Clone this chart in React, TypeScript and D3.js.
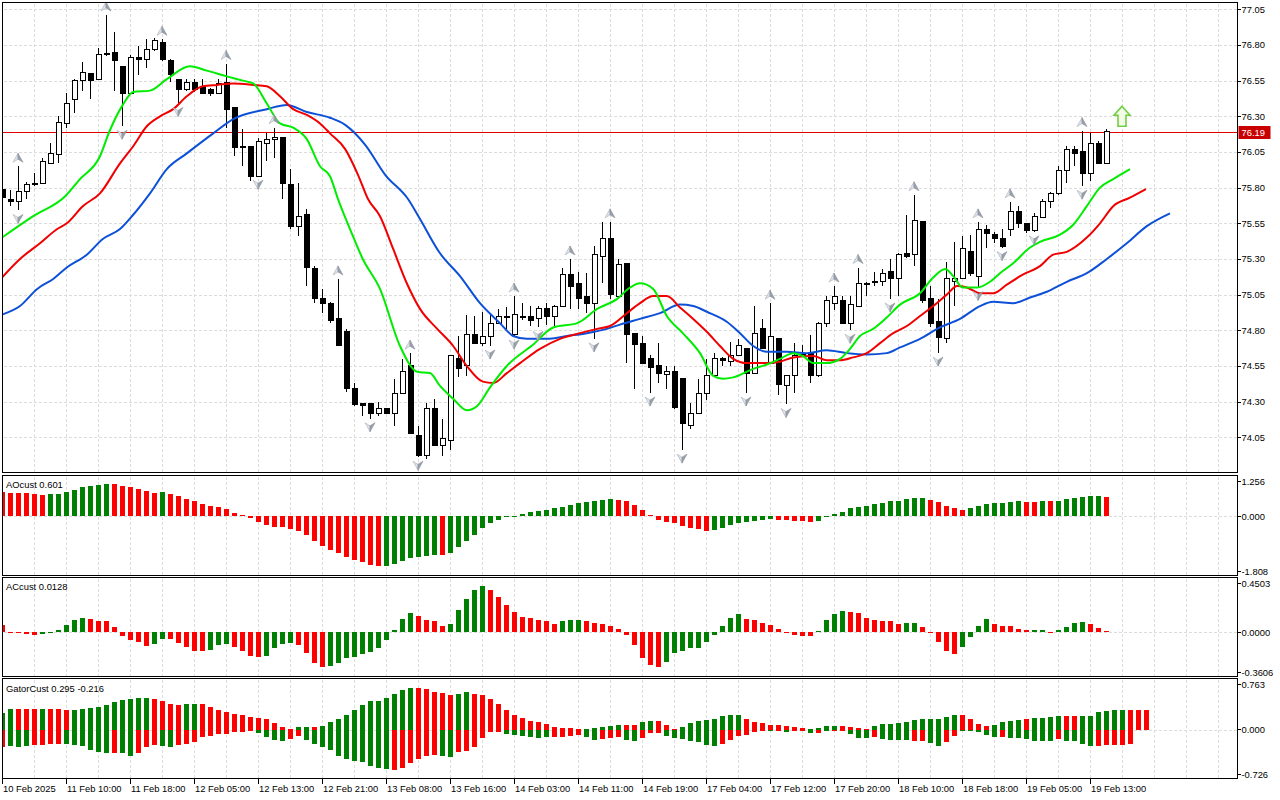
import * as d3 from 'd3';

// ---------- candles (hourly bars) ----------
const opens = [75.79,75.72,75.70,75.77,75.82,75.83,75.97,76.03,76.25,76.42,
76.55,76.60,76.56,76.73,76.75,76.65,76.46,76.71,76.70,76.77,
76.82,76.69,76.56,76.49,76.54,76.51,76.49,76.46,76.54,76.36,
76.09,76.09,75.88,76.11,76.14,76.15,75.82,75.53,75.61,75.23,
75.02,74.99,74.88,74.79,74.39,74.29,74.29,74.22,74.25,74.22,
74.36,74.55,74.06,73.92,74.25,73.99,74.03,74.60,74.55,74.77,
74.71,74.76,74.85,74.90,74.77,74.90,74.90,74.88,74.95,74.90,
74.97,75.19,75.13,75.04,74.99,75.32,75.44,75.04,75.27,74.78,
74.71,74.60,74.55,74.49,74.51,74.46,74.13,74.22,74.36,74.48,
74.60,74.58,74.62,74.67,74.50,74.81,74.57,74.74,74.41,74.48,
74.62,74.64,74.48,74.85,74.99,75.01,74.85,74.97,75.13,75.14,
75.14,75.21,75.16,75.34,75.33,75.56,75.02,74.86,74.74,75.14,
75.16,75.35,75.18,75.51,75.47,75.44,75.51,75.63,75.55,75.50,
75.59,75.70,75.76,75.92,76.07,76.05,75.90,76.11,75.97];
const highs = [75.81,75.78,75.95,75.84,75.90,76.01,76.11,76.30,76.46,76.56,
76.68,76.60,76.78,77.01,76.89,76.65,76.73,76.79,76.84,76.85,
76.84,76.70,76.56,76.56,76.56,76.56,76.50,76.56,76.67,76.36,
76.21,76.09,76.15,76.18,76.22,76.15,75.93,75.83,75.65,75.25,
75.09,75.00,75.16,74.81,74.43,74.29,74.29,74.30,74.25,74.46,
74.60,74.64,74.13,74.29,74.32,74.18,74.63,74.76,74.91,74.90,
74.93,74.92,74.95,74.96,75.04,74.99,74.97,74.97,74.99,74.98,
75.24,75.30,75.21,75.20,75.39,75.56,75.56,75.30,75.27,74.78,
74.76,74.63,74.71,74.55,74.55,74.46,74.29,74.46,74.60,74.64,
74.61,74.72,74.74,74.67,74.97,74.88,74.99,74.74,74.48,74.71,
74.70,74.77,74.86,75.04,75.11,75.04,75.04,75.24,75.14,75.21,
75.23,75.30,75.34,75.61,75.75,75.56,75.11,75.02,75.28,75.42,
75.46,75.47,75.56,75.54,75.49,75.51,75.70,75.67,75.55,75.62,
75.72,75.77,75.95,76.09,76.09,76.20,76.18,76.13,76.21];
const lows = [75.72,75.67,75.64,75.72,75.81,75.83,75.97,75.97,76.22,76.32,
76.48,76.42,76.56,76.72,76.48,76.23,76.46,76.59,76.64,76.76,
76.69,76.54,76.39,76.48,76.47,76.46,76.44,76.46,76.22,76.02,
75.95,75.85,75.88,75.99,76.01,75.72,75.51,75.46,75.11,74.99,
74.92,74.85,74.69,74.37,74.27,74.20,74.18,74.20,74.22,74.13,
74.36,74.08,73.91,73.90,73.99,73.92,73.96,74.47,74.48,74.71,
74.69,74.69,74.85,74.81,74.76,74.87,74.83,74.82,74.84,74.83,
74.97,74.95,74.95,74.92,74.74,75.13,75.02,75.02,74.57,74.39,
74.57,74.36,74.43,74.39,74.25,73.96,74.11,74.22,74.31,74.47,
74.55,74.55,74.62,74.36,74.50,74.67,74.57,74.35,74.28,74.36,
74.61,74.43,74.47,74.82,74.94,74.85,74.80,74.97,75.04,75.11,
75.11,75.02,75.04,75.31,75.25,74.99,74.82,74.64,74.71,74.97,
75.16,75.18,75.10,75.38,75.41,75.38,75.46,75.52,75.48,75.49,
75.59,75.66,75.75,75.83,75.95,75.81,75.85,75.97,75.97];
const closes = [75.73,75.70,75.77,75.82,75.83,75.98,76.04,76.26,76.39,76.55,
76.61,76.55,76.73,76.74,76.69,76.46,76.71,76.70,76.77,76.83,
76.70,76.59,76.49,76.54,76.49,76.46,76.46,76.53,76.35,76.08,
76.08,75.88,76.12,76.14,76.15,75.83,75.53,75.60,75.24,75.02,
74.99,74.87,74.69,74.39,74.28,74.27,74.22,74.25,74.22,74.36,
74.51,74.08,73.92,74.25,73.99,74.04,74.62,74.53,74.77,74.71,
74.76,74.85,74.90,74.90,74.91,74.90,74.87,74.95,74.90,74.97,
75.19,75.11,75.02,74.99,75.33,75.44,75.05,75.26,74.77,74.70,
74.57,74.54,74.50,74.51,74.26,74.15,74.22,74.36,74.48,74.60,
74.59,74.62,74.69,74.50,74.78,74.67,74.76,74.42,74.48,74.62,
74.63,74.48,74.85,75.01,75.04,74.85,74.98,75.13,75.12,75.14,
75.20,75.16,75.33,75.32,75.57,75.01,74.85,74.75,75.16,75.16,
75.37,75.20,75.51,75.48,75.44,75.39,75.63,75.55,75.50,75.60,
75.70,75.76,75.92,76.07,76.04,75.90,76.11,75.97,76.19];

const fractalUp = [2,13,20,28,34,42,51,64,71,76,96,104,107,114,122,126,135];
const fractalDown = [2,15,22,32,46,52,61,64,67,74,81,85,93,98,106,111,117,122,125,129,135];

const lastPrice = 76.19;
const signalBar = 140;
const signalPrice = 76.30;

// ---------- alligator lines: [bar index, price] ----------
const lips: [number, number][] = [[0,75.45],[3.9,75.60],[7.9,75.74],[9.75,75.86],[12.25,76.02],[13.4,76.19],[15.1,76.38],[16.4,76.47],[18.5,76.48],[20.6,76.56],[23.5,76.65],[25.6,76.62],[28.1,76.58],[30.1,76.55],[31.4,76.53],[33.1,76.39],[34.75,76.25],[36.4,76.22],[38.1,76.14],[39.75,75.95],[41,75.88],[42,75.72],[43.5,75.51],[45.1,75.30],[47.25,75.09],[49.75,74.69],[51.9,74.51],[53.5,74.50],[54.75,74.41],[56.4,74.32],[58.1,74.24],[59.4,74.27],[61,74.40],[63.1,74.55],[66.4,74.70],[68.9,74.82],[71.9,74.85],[74.4,74.95],[76.9,75.02],[78.5,75.10],[79.75,75.13],[81.4,75.09],[83.1,74.90],[85.1,74.78],[87.25,74.64],[88.9,74.48],[90.1,74.46],[91.4,74.47],[93.9,74.53],[95.6,74.56],[97.25,74.60],[98.9,74.64],[100.1,74.62],[101.4,74.57],[103.1,74.57],[104.75,74.60],[106,74.67],[107.25,74.76],[108.9,74.81],[110.6,74.89],[112.25,74.98],[114.75,75.06],[116.4,75.17],[117.9,75.23],[118.9,75.18],[120.1,75.10],[121.9,75.10],[123.5,75.14],[124.75,75.20],[126.4,75.27],[128.5,75.38],[129.75,75.42],[132.25,75.47],[133.9,75.54],[135.6,75.67],[137.25,75.80],[138.9,75.86],[141,75.93]];
const teeth: [number, number][] = [[0,75.17],[2.25,75.30],[4.75,75.41],[6.9,75.51],[8.1,75.55],[10.1,75.67],[12.25,75.76],[14.75,75.97],[16.4,76.09],[18.1,76.23],[19.75,76.30],[21.4,76.35],[23.1,76.44],[25.1,76.51],[26.9,76.52],[28.9,76.53],[31.4,76.52],[33.1,76.51],[34.75,76.44],[36.4,76.35],[38.1,76.31],[39.75,76.25],[41,76.18],[42.9,76.07],[44.5,75.89],[45.75,75.72],[47.25,75.60],[48.9,75.37],[50.6,75.13],[52.25,74.95],[54.4,74.81],[56.4,74.69],[58.1,74.55],[60.1,74.44],[61.4,74.43],[63.1,74.50],[64.75,74.57],[67.25,74.67],[69.75,74.74],[72.25,74.78],[74.4,74.81],[76,74.83],[78.1,74.92],[79.75,74.99],[81.4,75.04],[83.1,75.04],[84.75,74.96],[86.4,74.88],[88.1,74.79],[89.75,74.69],[91.4,74.60],[93.1,74.57],[95.6,74.57],[97.25,74.58],[98.9,74.61],[101.4,74.62],[103.1,74.59],[104.75,74.59],[106.4,74.61],[108.1,74.64],[109.75,74.71],[111.4,74.78],[113.1,74.83],[114.75,74.90],[116.4,74.97],[118.1,75.05],[119.4,75.11],[120.6,75.10],[122.25,75.06],[123.9,75.06],[125.6,75.12],[127.6,75.19],[129.75,75.25],[131.4,75.33],[133.1,75.35],[135.6,75.45],[137.25,75.55],[138.9,75.67],[141,75.73],[143,75.79]];
const jaw: [number, number][] = [[0,74.91],[2.25,74.97],[4.4,75.09],[6.4,75.16],[8.1,75.24],[10.6,75.33],[12.6,75.44],[14.75,75.51],[16.4,75.61],[18.5,75.76],[20.6,75.93],[23.1,76.04],[26.4,76.18],[28.9,76.28],[33.1,76.35],[35.6,76.38],[38.1,76.33],[41,76.29],[42.9,76.24],[45.4,76.10],[47.9,75.89],[50.75,75.72],[52.25,75.58],[54.75,75.34],[57.25,75.18],[59.75,74.99],[62.25,74.85],[63.9,74.76],[65.6,74.74],[68.1,74.74],[70.6,74.76],[73.1,74.78],[75.6,74.81],[77.25,74.84],[79.75,74.88],[82.25,74.92],[84.75,74.98],[86.4,74.97],[88.1,74.93],[90.6,74.86],[92.25,74.78],[93.9,74.69],[95.6,74.65],[98.1,74.65],[100.6,74.64],[103.1,74.66],[105.6,74.64],[108.1,74.63],[110.6,74.64],[112.25,74.68],[114.75,74.74],[117.25,74.82],[119.75,74.88],[122.25,74.97],[123.9,75.00],[126.4,74.99],[128.5,75.03],[130.6,75.07],[133.1,75.14],[135.6,75.20],[138.1,75.30],[140.6,75.41],[143.1,75.53],[146,75.62]];

// ---------- oscillators (g = rising / green, r = falling / red) ----------
const aoValues = [0.74,0.72,0.72,0.72,0.69,0.66,0.69,0.70,0.76,0.82,
0.90,0.93,0.96,1.00,0.99,0.93,0.90,0.85,0.79,0.72,
0.76,0.69,0.62,0.54,0.46,0.38,0.33,0.28,0.23,0.12,
0.04,-0.04,-0.16,-0.26,-0.31,-0.32,-0.37,-0.44,-0.58,-0.75,
-0.91,-1.03,-1.13,-1.25,-1.32,-1.40,-1.48,-1.53,-1.51,-1.45,
-1.37,-1.27,-1.24,-1.22,-1.17,-1.18,-1.13,-0.94,-0.75,-0.58,
-0.34,-0.19,-0.10,-0.02,0.01,0.07,0.14,0.17,0.20,0.25,
0.30,0.35,0.41,0.44,0.48,0.50,0.54,0.50,0.48,0.35,
0.19,0.04,-0.10,-0.16,-0.21,-0.29,-0.34,-0.39,-0.44,-0.41,
-0.34,-0.26,-0.21,-0.16,-0.13,-0.11,-0.08,-0.10,-0.11,-0.13,
-0.135,-0.16,-0.13,-0.01,0.07,0.14,0.25,0.30,0.33,0.38,
0.42,0.46,0.48,0.53,0.56,0.565,0.50,0.45,0.32,0.25,
0.20,0.25,0.31,0.37,0.40,0.41,0.44,0.46,0.45,0.44,
0.48,0.46,0.48,0.53,0.56,0.59,0.62,0.625,0.601];
const aoColors = 'rrrrrrgggg' + 'ggggrrrrrr' + 'grrrrrrrrr' + 'rrrrrrrrrr' + 'rrrrrrrrgg' +
  'gggggrgggg' + 'gggggggggg' + 'gggggggrrr' + 'rrrrrrrrrg' + 'gggggggrrr' +
  'rrgggggggg' + 'ggggggrrrr' + 'rgggggggrr' + 'grggggggr';

const acValues = [0.063,0.005,-0.005,-0.01,-0.02,-0.015,-0.003,0.02,0.06,0.10,
0.12,0.11,0.094,0.09,0.046,-0.03,-0.063,-0.079,-0.11,-0.096,
-0.05,-0.055,-0.085,-0.12,-0.15,-0.152,-0.14,-0.10,-0.096,-0.12,
-0.15,-0.19,-0.20,-0.19,-0.13,-0.096,-0.09,-0.104,-0.17,-0.25,
-0.28,-0.275,-0.25,-0.21,-0.20,-0.18,-0.16,-0.13,-0.063,0.02,
0.11,0.16,0.134,0.10,0.09,0.05,0.07,0.186,0.276,0.345,
0.38,0.35,0.29,0.227,0.164,0.13,0.118,0.10,0.09,0.07,
0.095,0.104,0.105,0.09,0.077,0.07,0.057,0.03,-0.02,-0.10,
-0.21,-0.27,-0.28,-0.24,-0.17,-0.15,-0.13,-0.128,-0.08,-0.02,
0.05,0.12,0.148,0.113,0.10,0.08,0.064,0.025,-0.005,-0.02,
-0.03,-0.032,0.008,0.10,0.154,0.173,0.167,0.162,0.118,0.10,
0.095,0.094,0.067,0.08,0.081,0.046,-0.005,-0.08,-0.15,-0.18,
-0.12,-0.035,0.055,0.11,0.067,0.05,0.049,0.025,0.019,0.02,
0.021,-0.003,0.019,0.046,0.08,0.082,0.072,0.04,0.0128];
const acColors = 'rrrrrggggg' + 'grrrrrrrrg' + 'grrrrrgggr' + 'rrrggggrrr' + 'rggggggggg' +
  'ggrrrrgggg' + 'grrrrrrrrr' + 'gggrrrrrrr' + 'rrrggggggg' + 'gggrrrrrrr' +
  'rrggggrrrr' + 'rrrggrrrrr' + 'ggggrrrrrg' + 'grggggrrr';

const gatorUpper = [0.248,0.308,0.308,0.313,0.313,0.313,0.313,0.313,0.298,0.298,
0.308,0.323,0.342,0.372,0.407,0.446,0.456,0.466,0.476,0.456,
0.422,0.387,0.367,0.387,0.387,0.387,0.337,0.298,0.258,0.233,
0.218,0.188,0.169,0.159,0.099,0.045,0.01,0.045,0.045,0.045,
0.06,0.109,0.159,0.218,0.298,0.367,0.422,0.432,0.476,0.531,
0.595,0.625,0.625,0.605,0.565,0.541,0.516,0.536,0.556,0.536,
0.516,0.456,0.382,0.298,0.218,0.169,0.134,0.109,0.08,0.045,
0.025,0.02,0.015,0.01,0.02,0.035,0.06,0.065,0.07,0.07,
0.109,0.134,0.134,0.07,0.01,0.045,0.094,0.124,0.144,0.159,
0.199,0.223,0.225,0.159,0.119,0.094,0.075,0.07,0.05,0.035,
0.025,0.005,0.02,0.05,0.06,0.06,0.035,0.02,0.01,0.06,
0.085,0.087,0.094,0.119,0.144,0.159,0.16,0.16,0.184,0.218,
0.218,0.159,0.085,0.06,0.07,0.119,0.134,0.144,0.155,0.169,
0.174,0.184,0.199,0.199,0.199,0.199,0.208,0.258,0.283,0.298,
0.298,0.295,0.295,0.295];
const gatorUpperColors = 'ggrrrgrrrg' + 'gggggggggr' + 'rrrggrrrrr' + 'rrrrrrrggr' + 'gggggggggg' +
  'ggrrrrrggr' + 'rrrrrrrrrr' + 'rrrgggggrr' + 'ggrrrggggg' + 'gggrrrrrrr' +
  'rggggrrrrg' + 'gggggggggg' + 'rrrrggggrg' + 'gggrrggggg' + 'grrr';

const gatorLower = [-0.263,-0.248,-0.253,-0.248,-0.223,-0.223,-0.213,-0.213,-0.213,-0.223,
-0.248,-0.297,-0.327,-0.352,-0.352,-0.352,-0.387,-0.352,-0.263,-0.228,
-0.238,-0.253,-0.228,-0.218,-0.179,-0.114,-0.089,-0.069,-0.064,-0.040,
-0.030,-0.015,-0.05,-0.114,-0.149,-0.164,-0.139,-0.089,-0.154,-0.213,
-0.253,-0.307,-0.387,-0.436,-0.461,-0.486,-0.546,-0.565,-0.59,-0.595,
-0.575,-0.50,-0.436,-0.387,-0.377,-0.387,-0.402,-0.337,-0.312,-0.253,
-0.129,-0.03,-0.03,-0.064,-0.074,-0.099,-0.114,-0.124,-0.114,-0.109,
-0.104,-0.089,-0.079,-0.114,-0.154,-0.139,-0.129,-0.114,-0.154,-0.169,
-0.129,-0.05,-0.05,-0.099,-0.129,-0.139,-0.164,-0.189,-0.228,-0.248,
-0.218,-0.149,-0.099,-0.074,-0.040,-0.015,-0.025,-0.005,-0.04,-0.015,
-0.005,-0.05,-0.05,-0.003,-0.003,-0.01,-0.064,-0.124,-0.124,-0.114,
-0.139,-0.149,-0.149,-0.149,-0.164,-0.164,-0.203,-0.248,-0.189,-0.089,
-0.015,-0.003,-0.04,-0.079,-0.114,-0.104,-0.129,-0.129,-0.139,-0.164,
-0.174,-0.164,-0.139,-0.164,-0.174,-0.213,-0.248,-0.238,-0.233,-0.233,
-0.228,-0.216];
const gatorLowerColors = 'rgggrrrrgg' + 'ggggrggrrr' + 'ggrrrrrrrr' + 'rrggggrrgg' + 'gggggggggr' +
  'rrrrrggrrr' + 'rrrggggggr' + 'rrrggrrrgg' + 'rrrggggggg' + 'rrrrrrgrgr' +
  'rgrgrrgggr' + 'ggggrrggrr' + 'gggggrgggg' + 'ggrggggrrr' + 'rr';

// ---------- axes ----------
const priceTicks = [77.05, 76.80, 76.55, 76.30, 76.05, 75.80, 75.55, 75.30, 75.05, 74.80, 74.55, 74.30, 74.05];
const timeLabels = ['10 Feb 2025', '11 Feb 10:00', '11 Feb 18:00', '12 Feb 05:00', '12 Feb 13:00',
  '12 Feb 21:00', '13 Feb 08:00', '13 Feb 16:00', '14 Feb 03:00', '14 Feb 11:00', '14 Feb 19:00',
  '17 Feb 04:00', '17 Feb 12:00', '17 Feb 20:00', '18 Feb 10:00', '18 Feb 18:00', '19 Feb 05:00',
  '19 Feb 13:00'];
const aoTicks = [['1.256', 1.256], ['0.000', 0], ['-1.808', -1.808]] as [string, number][];
const acTicks = [['0.4503', 0.4503], ['0.0000', 0], ['-0.3606', -0.3606]] as [string, number][];
const gatorTicks = [['0.763', 0.763], ['0.000', 0], ['-0.726', -0.726]] as [string, number][];

// ---------- layout ----------
const L = 2.5;
const R = 1237.5;
const panes = {
  main: { top: 2.5, bottom: 472.5 },
  ao: { top: 475.5, bottom: 575.5 },
  ac: { top: 577.5, bottom: 676.5 },
  gator: { top: 678.5, bottom: 778.5 },
};

const x = d3.scaleLinear().domain([0, 1]).range([2, 10]);
const yPrice = d3.scaleLinear().domain([74.05, 77.05]).range([437.3, 9.3]);
const yAO = d3.scaleLinear().domain([-1.808, 1.256]).range([panes.ao.bottom, panes.ao.top]);
const yAC = d3.scaleLinear().domain([-0.3606, 0.4503]).range([panes.ac.bottom, panes.ac.top]);
const yGator = d3.scaleLinear().domain([-0.726, 0.763]).range([panes.gator.bottom, panes.gator.top]);

const GREEN = '#008000';
const RED = '#ff0000';
const GRID = '#dcdcdc';
const FONT = '"Liberation Sans", Arial, sans-serif';
const FS = 9.4;

const barIndex = d3.range(0, Math.floor(x.invert(R)) + 1);
const gridX = barIndex.filter((i) => i % 4 === 0 && i > 0);

function Histogram({ values, colors, y }: { values: number[]; colors: string; y: d3.ScaleLinear<number, number> }) {
  const y0 = y(0);
  return (
    <g shapeRendering="crispEdges">
      {values.map((v, i) => {
        const yv = y(v);
        return (
          <rect key={i} x={x(i) - 2} y={Math.min(y0, yv)} width={5}
            height={Math.max(1, Math.abs(yv - y0))} fill={colors[i] === 'g' ? GREEN : RED} />
        );
      })}
    </g>
  );
}

function PaneFrame({ top, bottom, id }: { top: number; bottom: number; id: string }) {
  return (
    <g>
      <clipPath id={id}>
        <rect x={L + 0.5} y={top + 0.5} width={R - L - 1} height={bottom - top - 1} />
      </clipPath>
      <g stroke={GRID} strokeDasharray="3,2" shapeRendering="crispEdges">
        {gridX.map((i) => (
          <line key={i} x1={x(i) + 0.5} x2={x(i) + 0.5} y1={top + 1} y2={bottom - 1} />
        ))}
      </g>
    </g>
  );
}

function RightTicks({ ticks, y, top, bottom }: { ticks: [string, number][]; y: d3.ScaleLinear<number, number>; top: number; bottom: number }) {
  return (
    <g fontFamily={FONT} fontSize={FS} fill="#000">
      {ticks.map(([label, v]) => {
        const base = Math.min(Math.max(y(v) + 3.5, top + 9), bottom - 1);
        return (
          <g key={label}>
            <line x1={R} x2={R + 3} y1={base - 3.5} y2={base - 3.5} stroke="#000" shapeRendering="crispEdges" />
            <text x={R + 4} y={base}>{label}</text>
          </g>
        );
      })}
    </g>
  );
}

function Fractal({ i, up }: { i: number; up: boolean }) {
  const cx = x(i);
  const dir = up ? 1 : -1;
  const tip = up ? yPrice(highs[i]) - 13 : yPrice(lows[i]) + 13;
  const base = tip + dir * 9;
  const notch = tip + dir * 6;
  return (
    <g>
      <path d={`M${cx},${tip} L${cx - 5},${base} L${cx},${notch} Z`} fill="#dfe3ea" stroke="#a7aebb" strokeWidth={0.6} />
      <path d={`M${cx},${tip} L${cx + 5},${base} L${cx},${notch} Z`} fill="#9aa0aa" stroke="#8a909a" strokeWidth={0.6} />
    </g>
  );
}

export default function App() {
  const line = d3.line<[number, number]>()
    .x((d) => x(d[0]))
    .y((d) => yPrice(d[1]))
    .curve(d3.curveMonotoneX);

  const sx = x(signalBar);
  const sy = yPrice(signalPrice);
  const priceY = Math.round(yPrice(lastPrice)) + 0.5;

  return (
    <svg width={1280} height={800} style={{ position: 'absolute', left: 0, top: 0, background: '#fff' }}>
      <rect width={1280} height={800} fill="#fff" />

      {/* main pane */}
      <PaneFrame top={panes.main.top} bottom={panes.main.bottom} id="clipMain" />
      <g stroke={GRID} strokeDasharray="3,2" shapeRendering="crispEdges">
        {priceTicks.map((p) => (
          <line key={p} x1={L + 1} x2={R - 1} y1={Math.round(yPrice(p)) + 0.5} y2={Math.round(yPrice(p)) + 0.5} />
        ))}
      </g>
      <g clipPath="url(#clipMain)">
        <line x1={L} x2={R} y1={priceY} y2={priceY} stroke="#e00000" strokeWidth={1} shapeRendering="crispEdges" />
        <g shapeRendering="crispEdges">
          {opens.map((o, i) => {
            const c = closes[i];
            const cx = x(i);
            const bull = c >= o;
            const yTop = yPrice(Math.max(o, c));
            const yBot = yPrice(Math.min(o, c));
            return (
              <g key={i}>
                <line x1={cx + 0.5} x2={cx + 0.5} y1={yPrice(highs[i])} y2={yPrice(lows[i])} stroke="#000" />
                <rect x={cx - 2} y={yTop} width={5} height={Math.max(1, yBot - yTop)}
                  fill={bull ? '#fff' : '#000'} stroke="#000" strokeWidth={1} />
              </g>
            );
          })}
        </g>
        <path d={line(jaw) ?? ''} fill="none" stroke="#0d50d8" strokeWidth={2} />
        <path d={line(teeth) ?? ''} fill="none" stroke="#f00000" strokeWidth={2} />
        <path d={line(lips) ?? ''} fill="none" stroke="#00ec00" strokeWidth={2} />
        {fractalUp.map((i) => <Fractal key={'u' + i} i={i} up />)}
        {fractalDown.map((i) => <Fractal key={'d' + i} i={i} up={false} />)}
        <path d={`M${sx},${sy - 10} L${sx + 8},${sy - 1} L${sx + 4},${sy - 1} L${sx + 4},${sy + 10} L${sx - 4},${sy + 10} L${sx - 4},${sy - 1} L${sx - 8},${sy - 1} Z`}
          fill="#f3fce8" stroke="#72cf42" strokeWidth={1.6} strokeLinejoin="miter" />
      </g>
      <rect x={L} y={panes.main.top} width={R - L} height={panes.main.bottom - panes.main.top} fill="none" stroke="#000" shapeRendering="crispEdges" />
      <g fontFamily={FONT} fontSize={FS}>
        {priceTicks.map((p) => {
          const yy = yPrice(p);
          return (
            <g key={p}>
              <line x1={R} x2={R + 3} y1={Math.round(yy) + 0.5} y2={Math.round(yy) + 0.5} stroke="#000" shapeRendering="crispEdges" />
              <text x={R + 4} y={yy + 3.5}>{p.toFixed(2)}</text>
            </g>
          );
        })}
        <rect x={R + 1} y={priceY - 6.5} width={32} height={13} fill="#c80000" />
        <text x={R + 4} y={priceY + 3.5} fill="#fff">{lastPrice.toFixed(2)}</text>
      </g>

      {/* AO pane */}
      <PaneFrame top={panes.ao.top} bottom={panes.ao.bottom} id="clipAO" />
      <line x1={L + 1} x2={R - 1} y1={Math.round(yAO(0)) + 0.5} y2={Math.round(yAO(0)) + 0.5} stroke={GRID} strokeDasharray="3,2" shapeRendering="crispEdges" />
      <g clipPath="url(#clipAO)"><Histogram values={aoValues} colors={aoColors} y={yAO} /></g>
      <rect x={L} y={panes.ao.top} width={R - L} height={panes.ao.bottom - panes.ao.top} fill="none" stroke="#000" shapeRendering="crispEdges" />
      <text x={6} y={488} fontFamily={FONT} fontSize={FS}>AOcust 0.601</text>
      <RightTicks ticks={aoTicks} y={yAO} top={panes.ao.top} bottom={panes.ao.bottom} />

      {/* AC pane */}
      <PaneFrame top={panes.ac.top} bottom={panes.ac.bottom} id="clipAC" />
      <line x1={L + 1} x2={R - 1} y1={Math.round(yAC(0)) + 0.5} y2={Math.round(yAC(0)) + 0.5} stroke={GRID} strokeDasharray="3,2" shapeRendering="crispEdges" />
      <g clipPath="url(#clipAC)"><Histogram values={acValues} colors={acColors} y={yAC} /></g>
      <rect x={L} y={panes.ac.top} width={R - L} height={panes.ac.bottom - panes.ac.top} fill="none" stroke="#000" shapeRendering="crispEdges" />
      <text x={6} y={590} fontFamily={FONT} fontSize={FS}>ACcust 0.0128</text>
      <RightTicks ticks={acTicks} y={yAC} top={panes.ac.top} bottom={panes.ac.bottom} />

      {/* Gator pane */}
      <PaneFrame top={panes.gator.top} bottom={panes.gator.bottom} id="clipGator" />
      <line x1={L + 1} x2={R - 1} y1={Math.round(yGator(0)) + 0.5} y2={Math.round(yGator(0)) + 0.5} stroke={GRID} strokeDasharray="3,2" shapeRendering="crispEdges" />
      <g clipPath="url(#clipGator)">
        <Histogram values={gatorUpper} colors={gatorUpperColors} y={yGator} />
        <Histogram values={gatorLower} colors={gatorLowerColors} y={yGator} />
      </g>
      <rect x={L} y={panes.gator.top} width={R - L} height={panes.gator.bottom - panes.gator.top} fill="none" stroke="#000" shapeRendering="crispEdges" />
      <text x={6} y={692} fontFamily={FONT} fontSize={FS}>GatorCust 0.295 -0.216</text>
      <RightTicks ticks={gatorTicks} y={yGator} top={panes.gator.top} bottom={panes.gator.bottom} />

      {/* time axis */}
      <g fontFamily={FONT} fontSize={FS}>
        {timeLabels.map((t, k) => {
          const tx = x(k * 8);
          return (
            <g key={t}>
              <line x1={tx + 0.5} x2={tx + 0.5} y1={panes.gator.bottom} y2={panes.gator.bottom + 5} stroke="#000" shapeRendering="crispEdges" />
              <text x={tx + 1} y={792}>{t}</text>
            </g>
          );
        })}
      </g>
    </svg>
  );
}
